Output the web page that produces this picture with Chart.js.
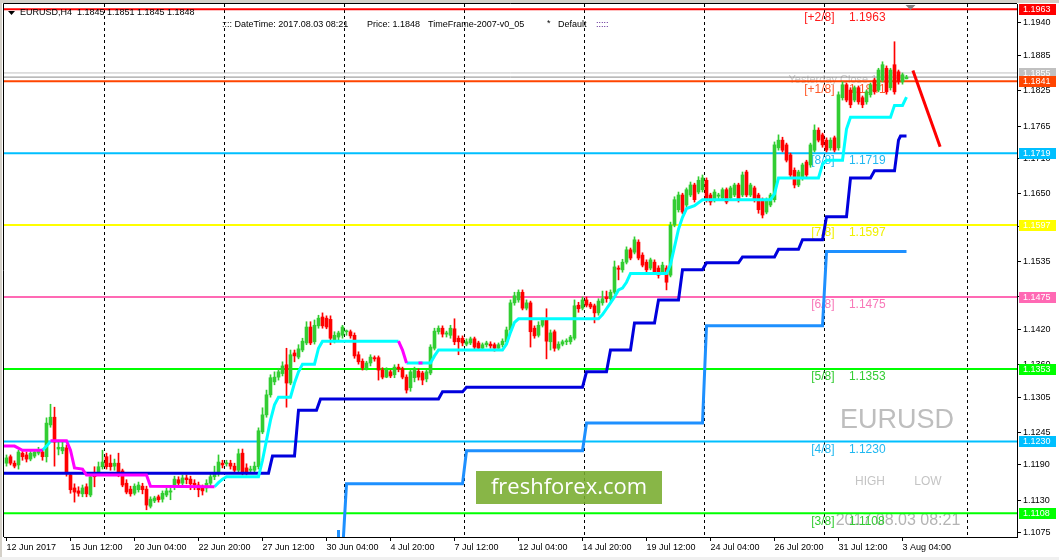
<!DOCTYPE html>
<html>
<head>
<meta charset="utf-8">
<script src="https://cdn.jsdelivr.net/npm/chart.js@4.4.1/dist/chart.umd.min.js"></script>
<style>
  html, body { margin: 0; padding: 0; background: #fff; }
  canvas { display: block; }
</style>
</head>
<body>
<canvas id="chart" width="1059" height="560"></canvas>
<script>
// EURUSD H4, 12 Jun 2017 20:00 .. 3 Aug 2017 08:00 (bar index 0..225)
const xLabels = ['12 Jun 2017', '15 Jun 12:00', '20 Jun 04:00', '22 Jun 20:00', '27 Jun 12:00',
  '30 Jun 04:00', '4 Jul 20:00', '7 Jul 12:00', '12 Jul 04:00', '14 Jul 20:00', '19 Jul 12:00',
  '24 Jul 04:00', '26 Jul 20:00', '31 Jul 12:00', '3 Aug 04:00'];
const xLabelBars = [0, 16, 32, 48, 64, 80, 96, 112, 128, 144, 160, 176, 192, 208, 224];
const weekBreaks = [24.5, 54.5, 84.5, 114.5, 144.5, 174.5, 204.5, 240.25];
const yTicks = [1.1940, 1.1885, 1.1825, 1.1765, 1.1710, 1.1650, 1.1595, 1.1535, 1.1475,
  1.1420, 1.1360, 1.1305, 1.1245, 1.1190, 1.1130, 1.1075];

const opens = [
  1.1193,1.1204,1.1193,1.1190,1.1210,1.1207,1.1200,1.1205,1.1210,1.1212,
  1.1204,1.1258,1.1271,1.1217,1.1214,1.1219,1.1173,1.1151,1.1146,1.1141,
  1.1153,1.1139,1.1176,1.1178,1.1187,1.1204,1.1193,1.1188,1.1193,1.1180,
  1.1159,1.1149,1.1142,1.1148,1.1154,1.1149,1.1120,1.1129,1.1136,1.1132,
  1.1139,1.1144,1.1153,1.1165,1.1159,1.1168,1.1166,1.1159,1.1156,1.1151,
  1.1151,1.1159,1.1170,1.1176,1.1193,1.1192,1.1193,1.1188,1.1181,1.1210,
  1.1185,1.1181,1.1181,1.1187,1.1246,1.1275,1.1309,1.1331,1.1339,1.1345,
  1.1360,1.1329,1.1380,1.1373,1.1385,1.1397,1.1424,1.1399,1.1426,1.1441,
  1.1439,1.1437,1.1402,1.1407,1.1410,1.1416,1.1416,1.1410,1.1377,1.1366,
  1.1355,1.1363,1.1372,1.1372,1.1351,1.1339,1.1348,1.1343,1.1356,1.1353,
  1.1339,1.1321,1.1338,1.1349,1.1346,1.1336,1.1346,1.1388,1.1416,1.1422,
  1.1412,1.1410,1.1421,1.1405,1.1405,1.1395,1.1397,1.1404,1.1397,1.1388,
  1.1394,1.1395,1.1394,1.1388,1.1394,1.1399,1.1419,1.1465,1.1470,1.1483,
  1.1456,1.1465,1.1422,1.1410,1.1427,1.1436,1.1399,1.1416,1.1388,1.1395,
  1.1399,1.1399,1.1405,1.1461,1.1456,1.1470,1.1463,1.1460,1.1448,1.1465,
  1.1475,1.1472,1.1483,1.1524,1.1521,1.1534,1.1555,1.1551,1.1568,1.1546,
  1.1534,1.1524,1.1534,1.1524,1.1517,1.1524,1.1512,1.1597,1.1623,1.1648,
  1.1631,1.1648,1.1665,1.1653,1.1657,1.1673,1.1648,1.1640,1.1646,1.1643,
  1.1657,1.1643,1.1648,1.1665,1.1648,1.1687,1.1648,1.1660,1.1648,1.1640,
  1.1619,1.1631,1.1640,1.1728,1.1741,1.1733,1.1716,1.1690,1.1665,1.1677,
  1.1704,1.1699,1.1724,1.1758,1.1750,1.1741,1.1728,1.1745,1.1728,1.1813,
  1.1835,1.1826,1.1809,1.1830,1.1813,1.1806,1.1818,1.1843,1.1826,1.1843,
  1.1863,1.1830,1.1869,1.1857,1.1840,1.1845];
const highs = [
  1.1207,1.1207,1.1197,1.1215,1.1215,1.1212,1.1214,1.1215,1.1220,1.1217,
  1.1270,1.1293,1.1288,1.1232,1.1229,1.1224,1.1176,1.1158,1.1153,1.1156,
  1.1158,1.1173,1.1187,1.1195,1.1215,1.1210,1.1207,1.1200,1.1210,1.1183,
  1.1165,1.1154,1.1158,1.1161,1.1159,1.1154,1.1136,1.1137,1.1139,1.1146,
  1.1151,1.1151,1.1171,1.1170,1.1173,1.1173,1.1171,1.1165,1.1161,1.1156,
  1.1165,1.1175,1.1188,1.1207,1.1198,1.1198,1.1198,1.1193,1.1217,1.1217,
  1.1192,1.1188,1.1195,1.1253,1.1287,1.1317,1.1343,1.1348,1.1354,1.1365,
  1.1388,1.1385,1.1385,1.1394,1.1405,1.1433,1.1433,1.1436,1.1444,1.1448,
  1.1443,1.1443,1.1416,1.1417,1.1427,1.1419,1.1419,1.1414,1.1382,1.1370,
  1.1366,1.1377,1.1375,1.1375,1.1355,1.1355,1.1351,1.1360,1.1361,1.1356,
  1.1343,1.1351,1.1356,1.1353,1.1349,1.1351,1.1394,1.1422,1.1426,1.1426,
  1.1417,1.1427,1.1438,1.1409,1.1409,1.1404,1.1407,1.1407,1.1400,1.1397,
  1.1400,1.1399,1.1397,1.1397,1.1404,1.1424,1.1470,1.1483,1.1487,1.1487,
  1.1470,1.1468,1.1426,1.1433,1.1439,1.1455,1.1419,1.1419,1.1399,1.1402,
  1.1404,1.1410,1.1470,1.1466,1.1475,1.1475,1.1466,1.1463,1.1472,1.1485,
  1.1485,1.1487,1.1536,1.1528,1.1539,1.1560,1.1558,1.1577,1.1572,1.1550,
  1.1538,1.1541,1.1538,1.1528,1.1534,1.1528,1.1602,1.1645,1.1653,1.1651,
  1.1660,1.1670,1.1668,1.1679,1.1682,1.1677,1.1651,1.1657,1.1651,1.1660,
  1.1660,1.1663,1.1668,1.1668,1.1687,1.1690,1.1668,1.1663,1.1651,1.1643,
  1.1643,1.1651,1.1738,1.1750,1.1746,1.1736,1.1719,1.1694,1.1690,1.1702,
  1.1707,1.1736,1.1767,1.1762,1.1753,1.1745,1.1745,1.1748,1.1823,1.1840,
  1.1838,1.1830,1.1833,1.1833,1.1816,1.1826,1.1838,1.1846,1.1863,1.1874,
  1.1867,1.1863,1.1908,1.1860,1.1855,1.1851];
const lows = [
  1.1188,1.1190,1.1185,1.1183,1.1198,1.1195,1.1197,1.1202,1.1207,1.1198,
  1.1195,1.1254,1.1188,1.1207,1.1209,1.1171,1.1142,1.1127,1.1137,1.1136,
  1.1136,1.1136,1.1153,1.1175,1.1183,1.1183,1.1181,1.1181,1.1170,1.1153,
  1.1141,1.1137,1.1139,1.1144,1.1141,1.1114,1.1117,1.1126,1.1127,1.1127,
  1.1136,1.1131,1.1148,1.1154,1.1156,1.1158,1.1148,1.1148,1.1136,1.1139,
  1.1144,1.1154,1.1165,1.1171,1.1185,1.1188,1.1183,1.1176,1.1176,1.1173,
  1.1173,1.1176,1.1176,1.1183,1.1243,1.1271,1.1305,1.1326,1.1334,1.1341,
  1.1288,1.1326,1.1365,1.1370,1.1382,1.1394,1.1394,1.1395,1.1422,1.1422,
  1.1421,1.1394,1.1397,1.1402,1.1405,1.1410,1.1405,1.1371,1.1361,1.1351,
  1.1351,1.1358,1.1366,1.1334,1.1336,1.1338,1.1338,1.1338,1.1348,1.1336,
  1.1312,1.1315,1.1331,1.1334,1.1326,1.1331,1.1343,1.1385,1.1412,1.1407,
  1.1407,1.1405,1.1394,1.1377,1.1392,1.1392,1.1394,1.1387,1.1385,1.1385,
  1.1390,1.1388,1.1383,1.1385,1.1390,1.1395,1.1416,1.1461,1.1466,1.1453,
  1.1453,1.1390,1.1405,1.1407,1.1424,1.1370,1.1385,1.1383,1.1385,1.1392,
  1.1394,1.1395,1.1402,1.1449,1.1453,1.1458,1.1455,1.1431,1.1444,1.1461,
  1.1466,1.1468,1.1480,1.1504,1.1517,1.1531,1.1538,1.1548,1.1538,1.1526,
  1.1517,1.1521,1.1514,1.1507,1.1514,1.1487,1.1509,1.1594,1.1619,1.1616,
  1.1628,1.1645,1.1636,1.1650,1.1653,1.1636,1.1631,1.1636,1.1641,1.1640,
  1.1633,1.1640,1.1645,1.1636,1.1645,1.1645,1.1645,1.1636,1.1617,1.1609,
  1.1616,1.1628,1.1636,1.1724,1.1721,1.1704,1.1679,1.1660,1.1662,1.1673,
  1.1679,1.1695,1.1721,1.1738,1.1729,1.1721,1.1724,1.1721,1.1724,1.1809,
  1.1806,1.1796,1.1806,1.1802,1.1796,1.1802,1.1814,1.1819,1.1823,1.1840,
  1.1819,1.1826,1.1819,1.1836,1.1836,1.1845];
const closes = [
  1.1202,1.1193,1.1188,1.1212,1.1204,1.1200,1.1210,1.1212,1.1215,1.1204,
  1.1261,1.1271,1.1229,1.1220,1.1220,1.1176,1.1148,1.1144,1.1142,1.1151,
  1.1141,1.1170,1.1170,1.1187,1.1195,1.1187,1.1187,1.1193,1.1173,1.1156,
  1.1144,1.1141,1.1154,1.1156,1.1148,1.1122,1.1132,1.1134,1.1131,1.1142,
  1.1146,1.1146,1.1166,1.1159,1.1168,1.1165,1.1158,1.1156,1.1148,1.1146,
  1.1159,1.1170,1.1176,1.1195,1.1190,1.1193,1.1188,1.1181,1.1209,1.1178,
  1.1178,1.1183,1.1188,1.1248,1.1275,1.1309,1.1338,1.1339,1.1348,1.1358,
  1.1329,1.1377,1.1375,1.1387,1.1400,1.1424,1.1397,1.1427,1.1439,1.1426,
  1.1424,1.1405,1.1410,1.1414,1.1424,1.1417,1.1409,1.1375,1.1365,1.1355,
  1.1363,1.1373,1.1370,1.1351,1.1339,1.1351,1.1341,1.1356,1.1353,1.1339,
  1.1317,1.1348,1.1351,1.1339,1.1334,1.1348,1.1390,1.1417,1.1422,1.1412,
  1.1414,1.1422,1.1399,1.1399,1.1397,1.1399,1.1404,1.1390,1.1388,1.1394,
  1.1397,1.1392,1.1388,1.1394,1.1400,1.1419,1.1465,1.1477,1.1483,1.1456,
  1.1465,1.1416,1.1409,1.1427,1.1436,1.1400,1.1414,1.1388,1.1395,1.1399,
  1.1400,1.1407,1.1460,1.1455,1.1470,1.1461,1.1458,1.1448,1.1468,1.1472,
  1.1472,1.1483,1.1526,1.1522,1.1534,1.1555,1.1541,1.1572,1.1541,1.1529,
  1.1521,1.1538,1.1517,1.1512,1.1529,1.1500,1.1597,1.1640,1.1648,1.1619,
  1.1657,1.1665,1.1640,1.1673,1.1677,1.1640,1.1636,1.1653,1.1648,1.1657,
  1.1636,1.1660,1.1665,1.1640,1.1682,1.1648,1.1665,1.1640,1.1623,1.1614,
  1.1640,1.1648,1.1733,1.1741,1.1724,1.1707,1.1682,1.1665,1.1687,1.1699,
  1.1682,1.1733,1.1758,1.1741,1.1733,1.1724,1.1741,1.1724,1.1818,1.1835,
  1.1809,1.1801,1.1830,1.1806,1.1801,1.1823,1.1835,1.1823,1.1860,1.1869,
  1.1823,1.1860,1.1823,1.1840,1.1852,1.1848];

// indicator lines as [bar, price] corner points
const magentaParts = [
  [[-1, 1.1222], [2, 1.1222], [4, 1.1215], [9, 1.1215]],
  [[11, 1.1231], [15, 1.1231], [16, 1.1215], [17, 1.1185], [19, 1.1183], [20, 1.1173], [35, 1.1173],
   [36, 1.1154], [52, 1.1153]],
  [[98, 1.1400], [99, 1.1385], [100, 1.1363]],
  [[103, 1.1363], [104, 1.1363]]
];
const cyanParts = [
  [[9, 1.1215], [10, 1.1222], [11, 1.1230]],
  [[52, 1.1153], [53, 1.1160], [54, 1.1166], [55, 1.1170], [63, 1.1170], [64, 1.1198], [65, 1.1232],
   [66, 1.1266], [67, 1.1292], [68, 1.1305], [71, 1.1305], [72, 1.1329], [73, 1.1348], [74, 1.1361],
   [77, 1.1361], [78, 1.1388], [79, 1.1400], [98, 1.1400]],
  [[100, 1.1363], [106, 1.1363], [107, 1.1375], [108, 1.1385], [124, 1.1385], [125, 1.1395],
   [126, 1.1415], [127, 1.1432], [128, 1.1438], [148, 1.1438], [149, 1.1445], [150, 1.1455],
   [151, 1.1465], [152, 1.1475], [153, 1.1487], [154, 1.1490], [155, 1.1500], [156, 1.1515],
   [165, 1.1515], [166, 1.1530], [167, 1.1560], [168, 1.1590], [169, 1.1610], [170, 1.1625],
   [172, 1.1630], [174, 1.1640], [191, 1.1640], [192, 1.1650], [193, 1.1677], [203, 1.1677],
   [204, 1.1700], [205, 1.1707], [209, 1.1707], [210, 1.1760], [211, 1.1780], [221, 1.1780],
   [222, 1.1800], [224, 1.1800], [225, 1.1814]]
];
const bluePts = [[-1, 1.1176], [65.5, 1.1176], [66.5, 1.1205], [72, 1.1205], [73, 1.1283], [77.5, 1.1283],
  [78.5, 1.1302], [108, 1.1302], [109, 1.1314], [114, 1.1314], [115, 1.1322], [144, 1.1322],
  [145, 1.1348], [150, 1.1348], [151, 1.1385], [156, 1.1385], [157, 1.1431], [162, 1.1431],
  [163, 1.1470], [168, 1.1470], [169, 1.1521], [174, 1.1521], [175, 1.1533], [183, 1.1533],
  [184, 1.1543], [192, 1.1543], [193, 1.1556], [198, 1.1556], [199, 1.1572], [204, 1.1572],
  [205, 1.1611], [210, 1.1611], [211, 1.1677], [216, 1.1677], [217, 1.1689], [222, 1.1689],
  [223, 1.1741], [223.5, 1.1748], [225, 1.1748]];
const dodgerPts = [[84, 1.1040], [85, 1.1158], [114, 1.1158], [115, 1.1214], [144, 1.1214],
  [145, 1.1261], [174, 1.1261], [175, 1.1426], [204, 1.1426], [205, 1.1552], [225, 1.1552]];
const arrowPts = [[226.6, 1.1859], [233.4, 1.1730]];

// Murrey-style levels
const levels = [1.1963, 1.1841, 1.1719, 1.1597, 1.1475, 1.1353, 1.1230, 1.1108];
const levelNames = ['[+2/8]', '[+1/8]', '[8/8]', '[7/8]', '[6/8]', '[5/8]', '[4/8]', '[3/8]'];
const yesterdayClose = 1.1855;
const bidPrice = 1.1848;

// styles
const levelColors = ['#ff0000', '#ff4500', '#00bfff', '#ffff00', '#ff69b4', '#00ff00', '#00bfff', '#00ff00'];
const levelTextColors = ['#ff1a1a', '#ff5a2a', '#20b8f0', '#f0f000', '#f878b8', '#33cc33', '#20b8f0', '#33cc33'];
const UP = '#32cd32', DOWN = '#ff0000';
const FONT = '"Liberation Sans", Arial, sans-serif';

const candleColors = closes.map((c, i) => (c >= opens[i] ? UP : DOWN));
const toXY = pts => pts.map(p => ({ x: p[0], y: p[1] }));
function lineDs(pts, color, width, order) {
  return { type: 'line', data: toXY(pts), borderColor: color, borderWidth: width, pointRadius: 0,
    tension: 0, fill: false, clip: 0, order: order };
}

const datasets = [];
levels.forEach((v, k) => datasets.push(lineDs([[-1, v], [260, v]], levelColors[k], 2, 20)));
datasets.push(lineDs([[-1, yesterdayClose], [260, yesterdayClose]], '#c0c0c0', 1, 20));
datasets.push(lineDs([[-1, bidPrice], [260, bidPrice]], '#8c8c8c', 1, 20));
datasets.push({ type: 'bar', data: closes.map((c, i) => ({ x: i, y: [lows[i], highs[i]] })),
  backgroundColor: candleColors, barThickness: 1, grouped: false, order: 11 });
datasets.push({ type: 'bar', data: closes.map((c, i) => ({ x: i, y: [opens[i], c] })),
  backgroundColor: candleColors, barThickness: 3, minBarLength: 1, grouped: false, order: 10 });
datasets.push(lineDs(dodgerPts, '#1e90ff', 3, 5));
datasets.push(lineDs(bluePts, '#0000dd', 3, 4));
cyanParts.forEach(p => datasets.push(lineDs(p, '#00ffff', 3, 3)));
magentaParts.forEach(p => datasets.push(lineDs(p, '#ff00ff', 3, 2)));
datasets.push(lineDs(arrowPts, '#ff0000', 3, 1));

const axisBoxes = [
  [1.1963, '#ff0000'], [yesterdayClose, '#c0c0c0'], [1.1841, '#ff4500'], [1.1719, '#00bfff'],
  [1.1597, '#ffff00'], [1.1475, '#ff69b4'], [1.1353, '#00ff00'], [1.1230, '#00bfff'], [1.1108, '#00ff00']
];

const decor = {
  id: 'decor',
  beforeDraw(chart) {
    const { ctx, width, height } = chart;
    ctx.save();
    ctx.fillStyle = '#ffffff';
    ctx.fillRect(0, 0, width, height);
    ctx.fillStyle = '#d4d0c8';
    ctx.fillRect(0, 0, width, 3);
    ctx.fillRect(0, 0, 2, height);
    ctx.fillStyle = '#f0f0f0';
    ctx.fillRect(0, 557, width, 3);
    ctx.restore();
  },
  beforeDatasetsDraw(chart) {
    const { ctx } = chart;
    const xs = chart.scales.x, ys = chart.scales.y;
    ctx.save();
    // watermarks
    ctx.textBaseline = 'middle';
    ctx.textAlign = 'center';
    ctx.fillStyle = '#bebebe';
    ctx.font = '27px ' + FONT;
    ctx.fillText('EURUSD', 897, 421);
    ctx.fillStyle = '#c4c4c4';
    ctx.font = '12px ' + FONT;
    ctx.fillText('HIGH', 870, 482);
    ctx.fillText('LOW', 928, 482);
    ctx.fillStyle = '#b4b4b4';
    ctx.font = '16px ' + FONT;
    ctx.fillText('2017.08.03 08:21', 898, 521);
    ctx.fillStyle = 'rgba(120,172,45,0.88)';
    ctx.fillRect(476, 471, 186, 33);
    ctx.fillStyle = '#ffffff';
    ctx.font = '22px "Open Sans", sans-serif';
    ctx.fillText('freshforex.com', 569, 488);
    // level captions
    ctx.font = '12px ' + FONT;
    levels.forEach((v, k) => {
      const y = ys.getPixelForValue(v) + 8;
      ctx.fillStyle = levelTextColors[k];
      ctx.textAlign = 'right';
      ctx.fillText(levelNames[k], xs.getPixelForValue(207), y);
      ctx.textAlign = 'left';
      ctx.fillText(v.toFixed(4), xs.getPixelForValue(210.6), y);
    });
    ctx.fillStyle = '#c8c8c8';
    ctx.font = '11px ' + FONT;
    ctx.textAlign = 'right';
    ctx.fillText('Yesterday Close ' + yesterdayClose.toFixed(4), xs.getPixelForValue(224.6), ys.getPixelForValue(yesterdayClose) + 7);
    ctx.restore();
  },
  afterDraw(chart) {
    const { ctx, chartArea: a } = chart;
    const xs = chart.scales.x, ys = chart.scales.y;
    ctx.save();
    // frame
    ctx.strokeStyle = '#000';
    ctx.lineWidth = 1;
    ctx.beginPath();
    ctx.moveTo(a.left - 0.5, a.bottom);
    ctx.lineTo(a.left - 0.5, a.top - 0.5);
    ctx.lineTo(a.right, a.top - 0.5);
    ctx.stroke();
    // price boxes on the axis
    ctx.font = '9px ' + FONT;
    ctx.textBaseline = 'middle';
    ctx.textAlign = 'left';
    axisBoxes.forEach(([v, col]) => {
      const y = Math.round(ys.getPixelForValue(v));
      ctx.fillStyle = col;
      ctx.fillRect(a.right + 2, y - 5, 37, 11);
      ctx.fillStyle = '#ffffff';
      ctx.fillText(v.toFixed(4), a.right + 6, y + 0.5);
    });
    // chart shift marker
    ctx.fillStyle = '#808080';
    const tx = xs.getPixelForValue(226);
    ctx.beginPath();
    ctx.moveTo(tx - 5, a.top + 1);
    ctx.lineTo(tx + 5, a.top + 1);
    ctx.lineTo(tx, a.top + 6);
    ctx.closePath();
    ctx.fill();
    // small marker on the time axis
    ctx.fillStyle = '#1e90ff';
    ctx.fillRect(Math.round(xs.getPixelForValue(83)) - 2, a.bottom - 7, 3, 7);
    // header
    ctx.fillStyle = '#000';
    ctx.beginPath();
    ctx.moveTo(8, 11);
    ctx.lineTo(15, 11);
    ctx.lineTo(11.5, 15);
    ctx.closePath();
    ctx.fill();
    ctx.font = '9px ' + FONT;
    ctx.fillText('EURUSD,H4  1.1845 1.1851 1.1845 1.1848', 20, 13);
    ctx.fillText(':::: DateTime: 2017.08.03 08:21', 222, 25);
    ctx.fillText('Price: 1.1848', 367, 25);
    ctx.fillText('TimeFrame-2007-v0_05', 428, 25);
    ctx.fillText('*', 547, 24);
    ctx.fillText('Default', 558, 25);
    ctx.fillStyle = '#400080';
    ctx.fillText(':::::', 596, 25);
    ctx.restore();
  }
};

new Chart(document.getElementById('chart'), {
  type: 'line',
  data: { datasets: datasets },
  options: {
    responsive: false,
    animation: false,
    devicePixelRatio: 1,
    events: [],
    layout: { padding: { left: 4, top: 4, right: 0, bottom: 0 } },
    plugins: { legend: { display: false }, tooltip: { enabled: false } },
    scales: {
      x: {
        type: 'linear',
        min: -0.625,
        max: 252.625,
        offset: false,
        afterBuildTicks(s) {
          s.ticks = xLabelBars.concat(weekBreaks).sort((a, b) => a - b).map(v => ({ value: v }));
        },
        afterFit(s) { s.height = 23; s.paddingLeft = 0; s.paddingRight = 0; },
        ticks: {
          autoSkip: false, maxRotation: 0, align: 'start', padding: 1, color: '#000',
          font: { family: FONT, size: 9 },
          callback(v) { const k = xLabelBars.indexOf(v); return k >= 0 ? xLabels[k] : ''; }
        },
        grid: {
          offset: false,
          tickLength: 4,
          color: c => (c.tick && weekBreaks.includes(c.tick.value) ? '#000' : 'rgba(0,0,0,0)'),
          tickColor: c => (c.tick && xLabelBars.includes(c.tick.value) ? '#000' : 'rgba(0,0,0,0)')
        },
        border: { color: '#000', dash: [3, 3] }
      },
      y: {
        type: 'linear',
        position: 'right',
        min: 1.10678,
        max: 1.19720,
        afterBuildTicks(s) { s.ticks = yTicks.map(v => ({ value: v })); },
        afterFit(s) { s.width = 42; s.paddingTop = 0; s.paddingBottom = 0; },
        ticks: { padding: 2, color: '#000', font: { family: FONT, size: 9 }, callback: v => v.toFixed(4) },
        grid: { drawOnChartArea: false, tickLength: 4, color: '#000' },
        border: { color: '#000' }
      }
    }
  },
  plugins: [decor]
});
</script>
</body>
</html>
